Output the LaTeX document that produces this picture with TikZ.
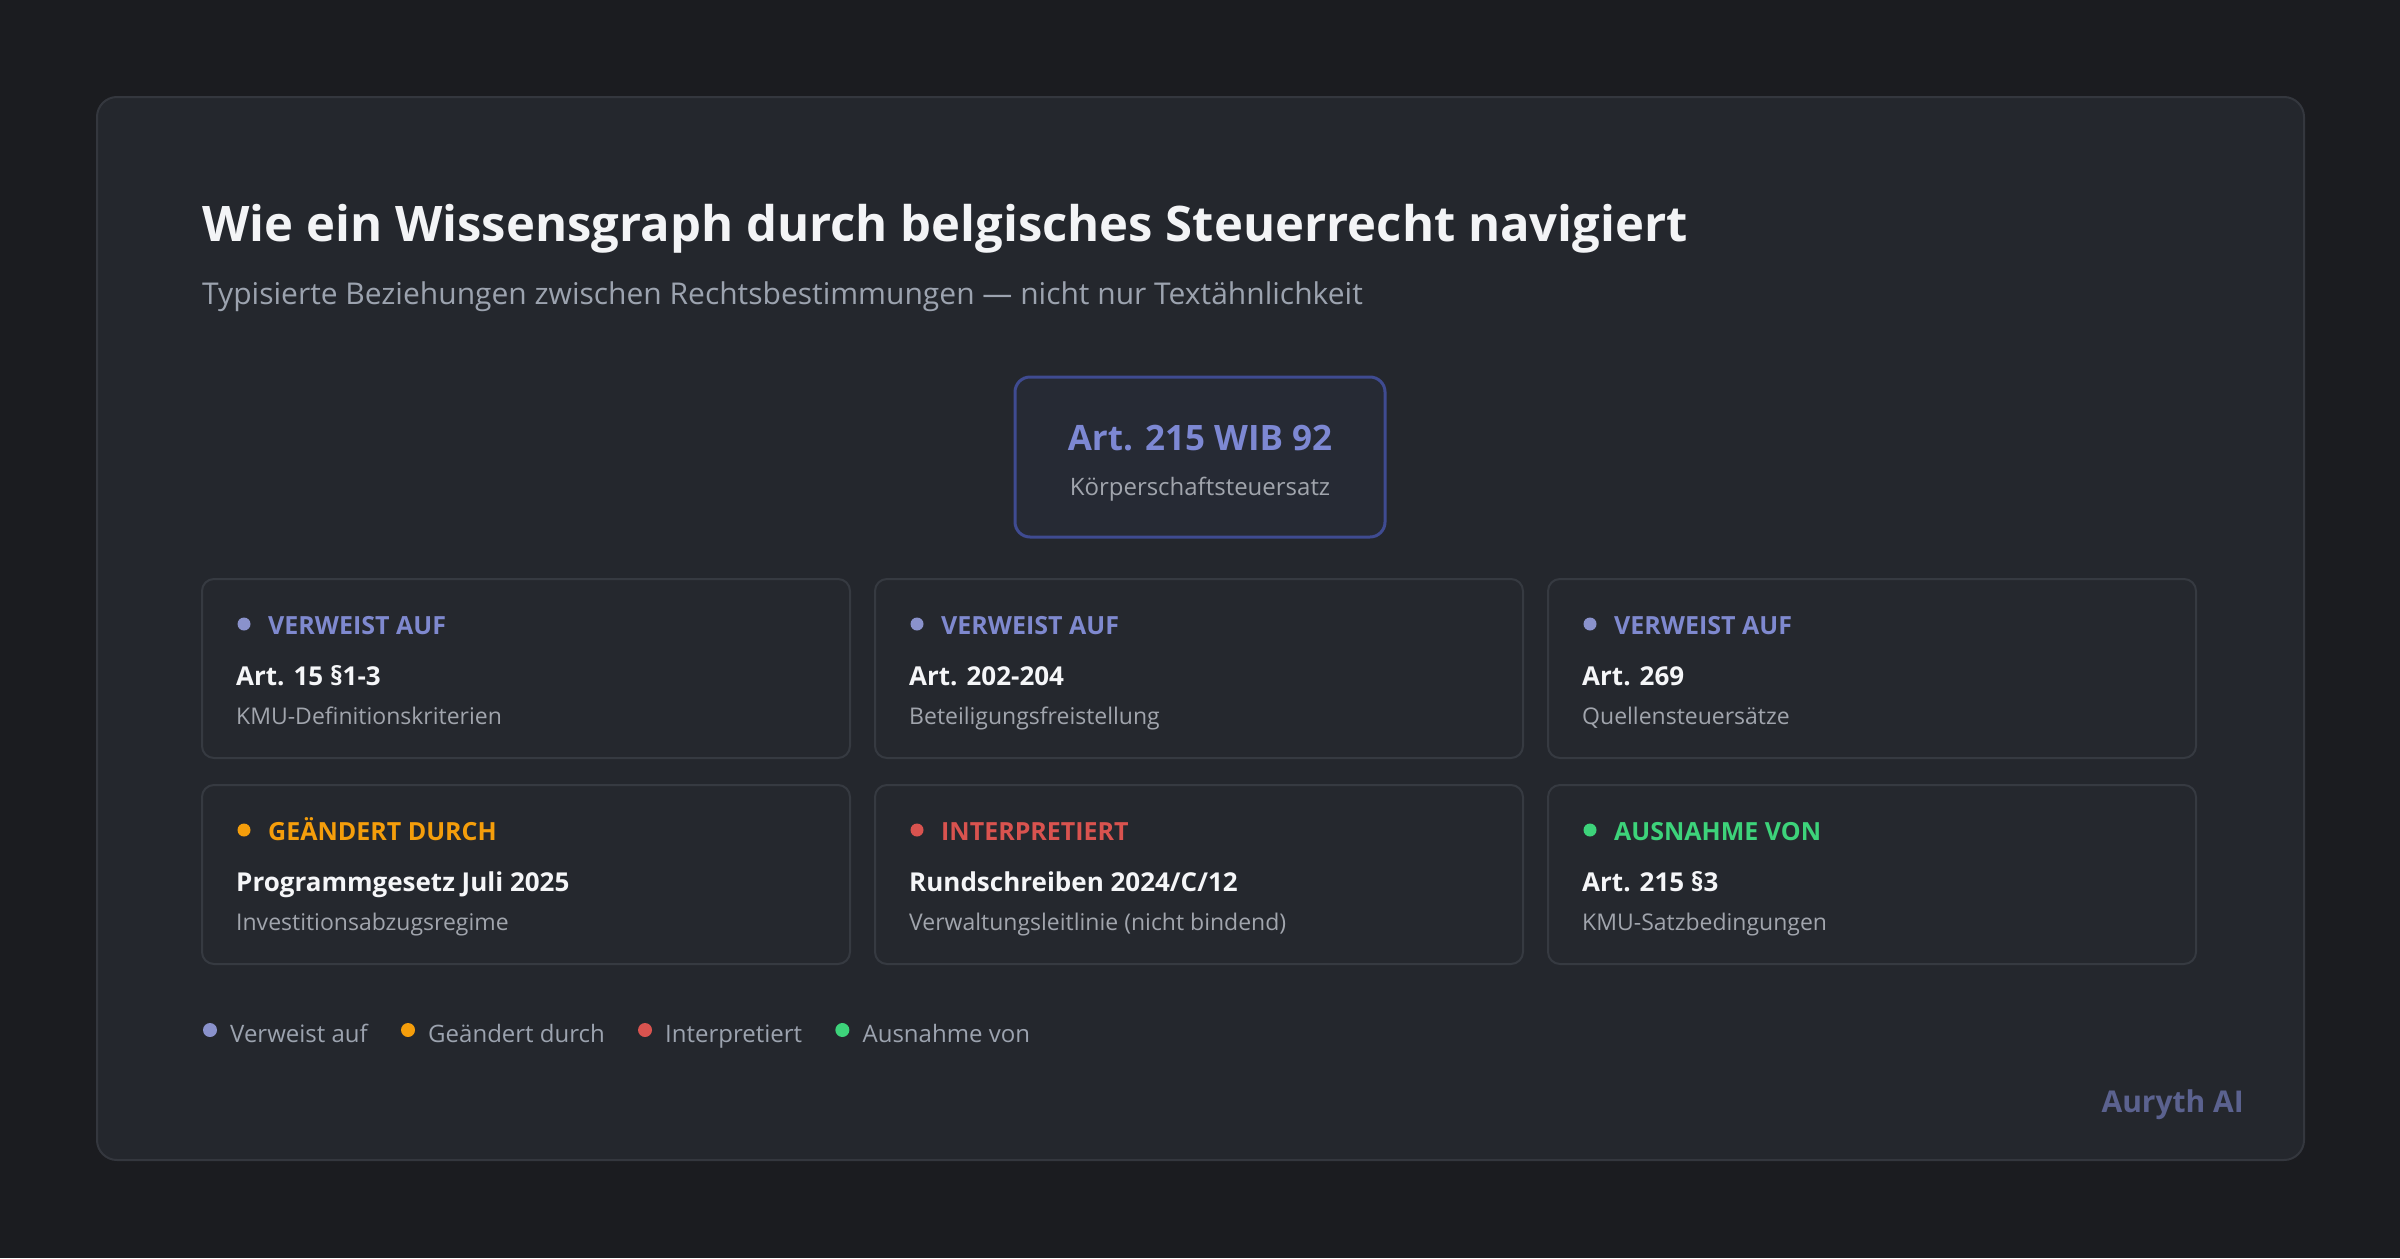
\documentclass[tikz,border=0pt]{standalone}
\usepackage{fontspec}
\setmainfont{Open Sans}
\usepackage{tikz}
\usetikzlibrary{positioning}
\definecolor{PageBg}{HTML}{1B1C20}
\definecolor{PanelBg}{HTML}{24272D}
\definecolor{PanelLine}{HTML}{34373E}
\definecolor{CardBg}{HTML}{25282E}
\definecolor{CardLine}{HTML}{363A41}
\definecolor{HubLine}{HTML}{3F4B91}
\definecolor{HubBg}{HTML}{262A34}
\definecolor{HubText}{HTML}{7D88D3}
\definecolor{HeadText}{HTML}{F3F4F6}
\definecolor{SubText}{HTML}{9CA3AF}
\definecolor{DescText}{HTML}{A1A5AD}
\definecolor{NameText}{HTML}{F5F6F8}
\definecolor{RefDot}{HTML}{8A92CC}
\definecolor{RefText}{HTML}{7F89CF}
\definecolor{Amend}{HTML}{F59E0B}
\definecolor{Interp}{HTML}{D9534F}
\definecolor{Except}{HTML}{3DD37A}
\definecolor{Brand}{HTML}{5B628F}

\begin{document}
\begin{tikzpicture}[
    x=1pt, y=-1pt,
    panel/.style={draw=PanelLine, line width=2pt, fill=PanelBg, rounded corners=20pt, inner sep=0pt},
    heading/.style={text=HeadText, font={\fontsize{49}{58}\selectfont\bfseries}, inner sep=0pt, anchor=base west},
    subheading/.style={text=SubText, font={\fontsize{30}{36}\selectfont}, inner sep=0pt, anchor=base west},
    hub/.style={draw=HubLine, line width=3pt, fill=HubBg, rounded corners=15pt, minimum width=370pt, minimum height=160pt},
    hubtitle/.style={text=HubText, font={\fontsize{35}{42}\selectfont\bfseries}, inner sep=0pt, anchor=base},
    hubsub/.style={text=DescText, font={\fontsize{24}{28}\selectfont}, inner sep=0pt, anchor=base},
    relcard/.style={draw=CardLine, line width=2pt, fill=CardBg, rounded corners=12pt, minimum width=648pt, minimum height=179pt, inner sep=0pt, outer sep=0pt},
    reldot/.style={circle, inner sep=0pt, minimum size=13pt, anchor=center},
    reltag/.style={font={\fontsize{25}{30}\selectfont\bfseries}, inner sep=0pt, anchor=base west},
    relname/.style={text=NameText, font={\fontsize{26}{30}\selectfont\bfseries}, inner sep=0pt, anchor=base west},
    reldesc/.style={text=DescText, font={\fontsize{23}{27}\selectfont}, inner sep=0pt, anchor=base west},
    legdot/.style={circle, inner sep=0pt, minimum size=14pt, anchor=center},
    legtext/.style={text=SubText, font={\fontsize{24}{28}\selectfont}, inner sep=0pt, anchor=base west},
    brand/.style={text=Brand, font={\fontsize{30}{34}\selectfont\bfseries}, inner sep=0pt, anchor=base east}
  ]
  \fill[PageBg] (0,0) rectangle (2400,1258);
  \node[panel, minimum width=2207pt, minimum height=1063pt] (panel) at (1200.5,628.5) {};

  \node[heading] (title) at (202,241) {Wie ein Wissensgraph durch belgisches Steuerrecht navigiert};
  \node[subheading] (subtitle) at (202,304) {Typisierte Beziehungen zwischen Rechtsbestimmungen — nicht nur Textähnlichkeit};

  \node[hub] (hub) at (1200,457) {};
  \node[above=7pt of hub.center, hubtitle] (hubname) {Art. 215 WIB 92};
  \node[below=38pt of hub.center, hubsub] (hubdesc) {Körperschaftsteuersatz};

  \node[relcard, anchor=north west] (ref1) at (202,579) {};
  \node[relcard, right=25pt of ref1] (ref2) {};
  \node[relcard, right=25pt of ref2] (ref3) {};
  \node[relcard, below=27pt of ref1] (amend) {};
  \node[relcard, below=27pt of ref2] (interp) {};
  \node[relcard, below=27pt of ref3] (except) {};

  \node[below right=45pt and 42pt of ref1.north west, reldot, fill=RefDot] (ref1dot) {};
  \node[below right=55pt and 66pt of ref1.north west, reltag, text=RefText] (ref1tag) {VERWEIST AUF};
  \node[below right=106pt and 34pt of ref1.north west, relname] (ref1name) {Art. 15 §1-3};
  \node[below right=145pt and 34pt of ref1.north west, reldesc] (ref1desc) {KMU-Definitionskriterien};

  \node[below right=45pt and 42pt of ref2.north west, reldot, fill=RefDot] (ref2dot) {};
  \node[below right=55pt and 66pt of ref2.north west, reltag, text=RefText] (ref2tag) {VERWEIST AUF};
  \node[below right=106pt and 34pt of ref2.north west, relname] (ref2name) {Art. 202-204};
  \node[below right=145pt and 34pt of ref2.north west, reldesc] (ref2desc) {Beteiligungsfreistellung};

  \node[below right=45pt and 42pt of ref3.north west, reldot, fill=RefDot] (ref3dot) {};
  \node[below right=55pt and 66pt of ref3.north west, reltag, text=RefText] (ref3tag) {VERWEIST AUF};
  \node[below right=106pt and 34pt of ref3.north west, relname] (ref3name) {Art. 269};
  \node[below right=145pt and 34pt of ref3.north west, reldesc] (ref3desc) {Quellensteuersätze};

  \node[below right=45pt and 42pt of amend.north west, reldot, fill=Amend] (amenddot) {};
  \node[below right=55pt and 66pt of amend.north west, reltag, text=Amend] (amendtag) {GEÄNDERT DURCH};
  \node[below right=106pt and 34pt of amend.north west, relname] (amendname) {Programmgesetz Juli 2025};
  \node[below right=145pt and 34pt of amend.north west, reldesc] (amenddesc) {Investitionsabzugsregime};

  \node[below right=45pt and 42pt of interp.north west, reldot, fill=Interp] (interpdot) {};
  \node[below right=55pt and 66pt of interp.north west, reltag, text=Interp] (interptag) {INTERPRETIERT};
  \node[below right=106pt and 34pt of interp.north west, relname] (interpname) {Rundschreiben 2024/C/12};
  \node[below right=145pt and 34pt of interp.north west, reldesc] (interpdesc) {Verwaltungsleitlinie (nicht bindend)};

  \node[below right=45pt and 42pt of except.north west, reldot, fill=Except] (exceptdot) {};
  \node[below right=55pt and 66pt of except.north west, reltag, text=Except] (excepttag) {AUSNAHME VON};
  \node[below right=106pt and 34pt of except.north west, relname] (exceptname) {Art. 215 §3};
  \node[below right=145pt and 34pt of except.north west, reldesc] (exceptdesc) {KMU-Satzbedingungen};

  \node[legdot, fill=RefDot] (leg1dot) at (210,1030) {};
  \node[below right=12pt and 20pt of leg1dot.center, legtext] (leg1) {Verweist auf};
  \node[above right=12pt and 40pt of leg1.base east, legdot, fill=Amend] (leg2dot) {};
  \node[below right=12pt and 20pt of leg2dot.center, legtext] (leg2) {Geändert durch};
  \node[above right=12pt and 40pt of leg2.base east, legdot, fill=Interp] (leg3dot) {};
  \node[below right=12pt and 20pt of leg3dot.center, legtext] (leg3) {Interpretiert};
  \node[above right=12pt and 40pt of leg3.base east, legdot, fill=Except] (leg4dot) {};
  \node[below right=12pt and 20pt of leg4dot.center, legtext] (leg4) {Ausnahme von};

  \node[brand] (watermark) at (2244,1112) {Auryth AI};
\end{tikzpicture}
\end{document}
